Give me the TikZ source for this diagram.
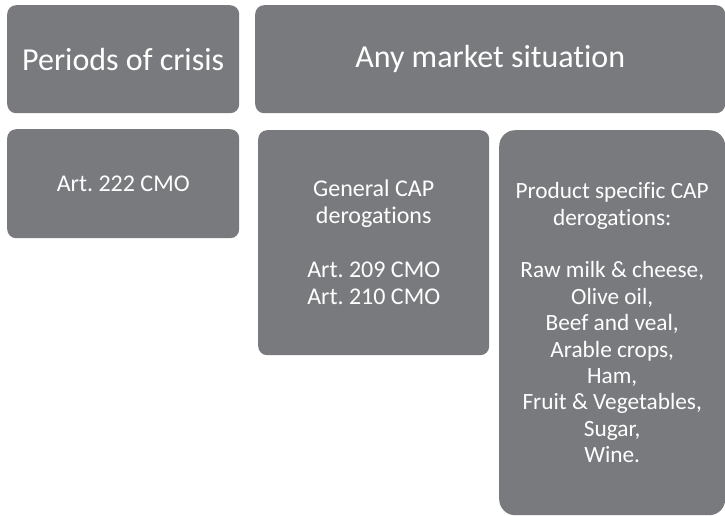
\documentclass[tikz,border=0pt]{standalone}
\usepackage{fontspec}
\setmainfont{Carlito}[Ligatures=NoCommon]
\definecolor{boxgrey}{RGB}{121,122,126}
\frenchspacing

\begin{document}
\begin{tikzpicture}[x=1pt,y=-1pt,
	panel/.style={fill=boxgrey,text=white,anchor=north west,align=center,inner sep=0pt},
	head/.style={panel,rounded corners=9pt,font=\fontsize{32}{38}\selectfont},
	small/.style={panel,rounded corners=9pt,font=\fontsize{24}{27}\selectfont},
	tall/.style={panel,rounded corners=16pt,font=\fontsize{23.3}{26.4}\selectfont}]
			\useasboundingbox (0,0) rectangle (725,515);
			\node[head,minimum width=232pt,minimum height=108pt] (crisis) at (7,5) {Periods of crisis};
			\node[head,minimum width=470pt,minimum height=108pt] (market) at (255,5) {Any market situation};
			\node[small,minimum width=232pt,minimum height=109pt] (art222) at (7,129) {Art. 222 CMO};
			\node[small,minimum width=231pt,minimum height=225pt] (general) at (258,130) {General CAP\\derogations\\[27pt]Art. 209 CMO\\Art. 210 CMO};
			\node[tall,minimum width=226pt,minimum height=385pt] (specific) at (499,130) {Product specific CAP\\derogations:\\[26.4pt]Raw milk \& cheese,\\Olive oil,\\Beef and veal,\\Arable crops,\\Ham,\\Fruit \& Vegetables,\\Sugar,\\Wine.};
\end{tikzpicture}
\end{document}
